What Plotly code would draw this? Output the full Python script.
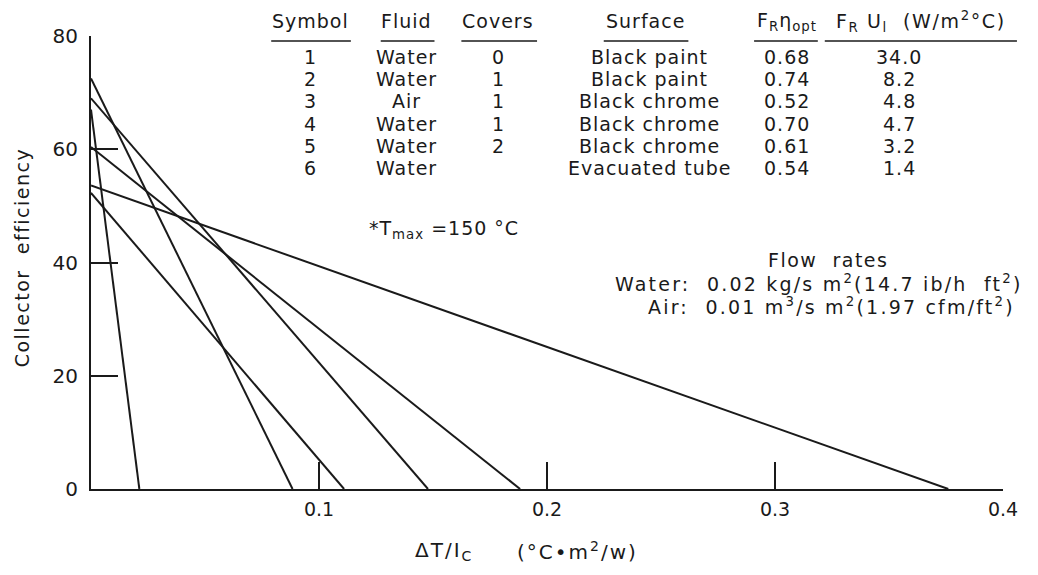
import plotly.graph_objects as go

# ---- data ----
symbols = ["1", "2", "3", "4", "5", "6"]
fluids = ["Water", "Water", "Air", "Water", "Water", "Water"]
covers = ["0", "1", "1", "1", "2", ""]
surfaces = ["Black paint", "Black paint", "Black chrome", "Black chrome", "Black chrome", "Evacuated tube"]
fr_eta_opt = ["0.68", "0.74", "0.52", "0.70", "0.61", "0.54"]
fr_ul = ["34.0", "8.2", "4.8", "4.7", "3.2", "1.4"]

# efficiency lines: value at dT/Ic = 0 and intercept with zero efficiency
eff_at_zero = [67.0, 72.5, 52.3, 69.0, 60.4, 53.6]
x_at_zero_eff = [0.0212, 0.0884, 0.111, 0.1478, 0.1882, 0.376]

x_ticks = [0.1, 0.2, 0.3, 0.4]
y_ticks = [0, 20, 40, 60, 80]

FONT = "DejaVu Sans"
INK = "#1a1a1a"

fig = go.Figure()
for s, y0, x1 in zip(symbols, eff_at_zero, x_at_zero_eff):
    fig.add_trace(go.Scatter(x=[0, x1], y=[y0, 0], mode="lines", name=s,
                             line=dict(color=INK, width=2), showlegend=False,
                             cliponaxis=False))

# page has an 8px body margin; plot area wanted at screen x 91..1007, y 36..489
OFF = 8
W, H = 1038 - 2 * OFF, 575 - 2 * OFF
PL, PR, PT, PB = 91, 1007, 36, 489
L, R, T, B = PL - OFF, (W + OFF) - PR, PT - OFF, (H + OFF) - PB
PW, PH = PR - PL, PB - PT


def px(x):
    return (x - PL) / PW


def py(y):
    return (PB - y) / PH


ann = []


def text(x, y, s, size=19, xanchor="center", angle=0, ls=1):
    if ls:
        s = '<span style="letter-spacing:%spx">%s</span>' % (ls, s)
    ann.append(dict(x=px(x), y=py(y), xref="paper", yref="paper", text=s,
                    showarrow=False, xanchor=xanchor, yanchor="middle",
                    textangle=angle, font=dict(family=FONT, size=size, color=INK)))


# table header
col_x = [311, 408, 500, 648, 790, 925]
headers = ["Symbol", "Fluid", "Covers", "Surface",
           "F<sub>R</sub>η<sub>opt</sub>",
           "F<sub>R</sub> U<sub>l</sub>  (W/m<sup>2</sup>°C)"]
hls = [1, 1, 1, 1, 1, 1.6]
under = [(272, 352), (382, 436), (463, 539), (606, 691), (757, 821), (828, 1021)]
for cx, h, l in zip(col_x, headers, hls):
    text(cx, 21, h, ls=l)
shapes = []
for a, b in under:
    shapes.append(dict(type="line", xref="paper", yref="paper",
                       x0=px(a), x1=px(b), y0=py(41), y1=py(41),
                       line=dict(color=INK, width=1.5)))

row_y = [57, 79, 101, 124, 146, 168]
val_x = [311, 408, 500, 652, 790, 903]
for i, ry in enumerate(row_y):
    for cx, col in zip(val_x, [symbols, fluids, covers, surfaces, fr_eta_opt, fr_ul]):
        if col[i]:
            text(cx, ry, col[i])

text(446, 230, "*T<sub>max</sub> =150 °C")
text(831, 260, "Flow  rates", ls=1.5)
text(1029, 283, "Water:  0.02 kg/s m<sup>2</sup>(14.7 ib/h  ft<sup>2</sup>)", xanchor="right", ls=2.2)
text(1021, 306, "Air:  0.01 m<sup>3</sup>/s m<sup>2</sup>(1.97 cfm/ft<sup>2</sup>)", xanchor="right", ls=2.2)

# axis titles
text(22, 257, "Collector  efficiency", size=19, angle=-90, ls=1.5)
text(446, 551, "ΔT/I<sub>C</sub>", size=20, ls=2)
text(580, 551, "(°C•m<sup>2</sup>/w)", size=20, ls=2)

fig.update_layout(
    width=W, height=H,
    margin=dict(l=L, r=R, t=T, b=B, pad=0),
    paper_bgcolor="white", plot_bgcolor="white",
    annotations=ann, shapes=shapes,
    font=dict(family=FONT, size=19, color=INK),
)
fig.update_xaxes(range=[0, 0.4], tickvals=x_ticks, ticktext=[str(v) for v in x_ticks],
                 ticks="inside", ticklen=27, tickwidth=1.5, tickcolor=INK,
                 showline=True, linecolor=INK, linewidth=2, showgrid=False,
                 zeroline=False, ticklabelstandoff=2,
                 tickfont=dict(family=FONT, size=19, color=INK))
fig.update_yaxes(range=[0, 80], tickvals=y_ticks, ticktext=[str(v) for v in y_ticks],
                 ticks="inside", ticklen=27, tickwidth=1.5, tickcolor=INK,
                 showline=True, linecolor=INK, linewidth=2, showgrid=False,
                 zeroline=False, ticklabelstandoff=7,
                 tickfont=dict(family=FONT, size=20, color=INK))

fig.write_html("out.html")
